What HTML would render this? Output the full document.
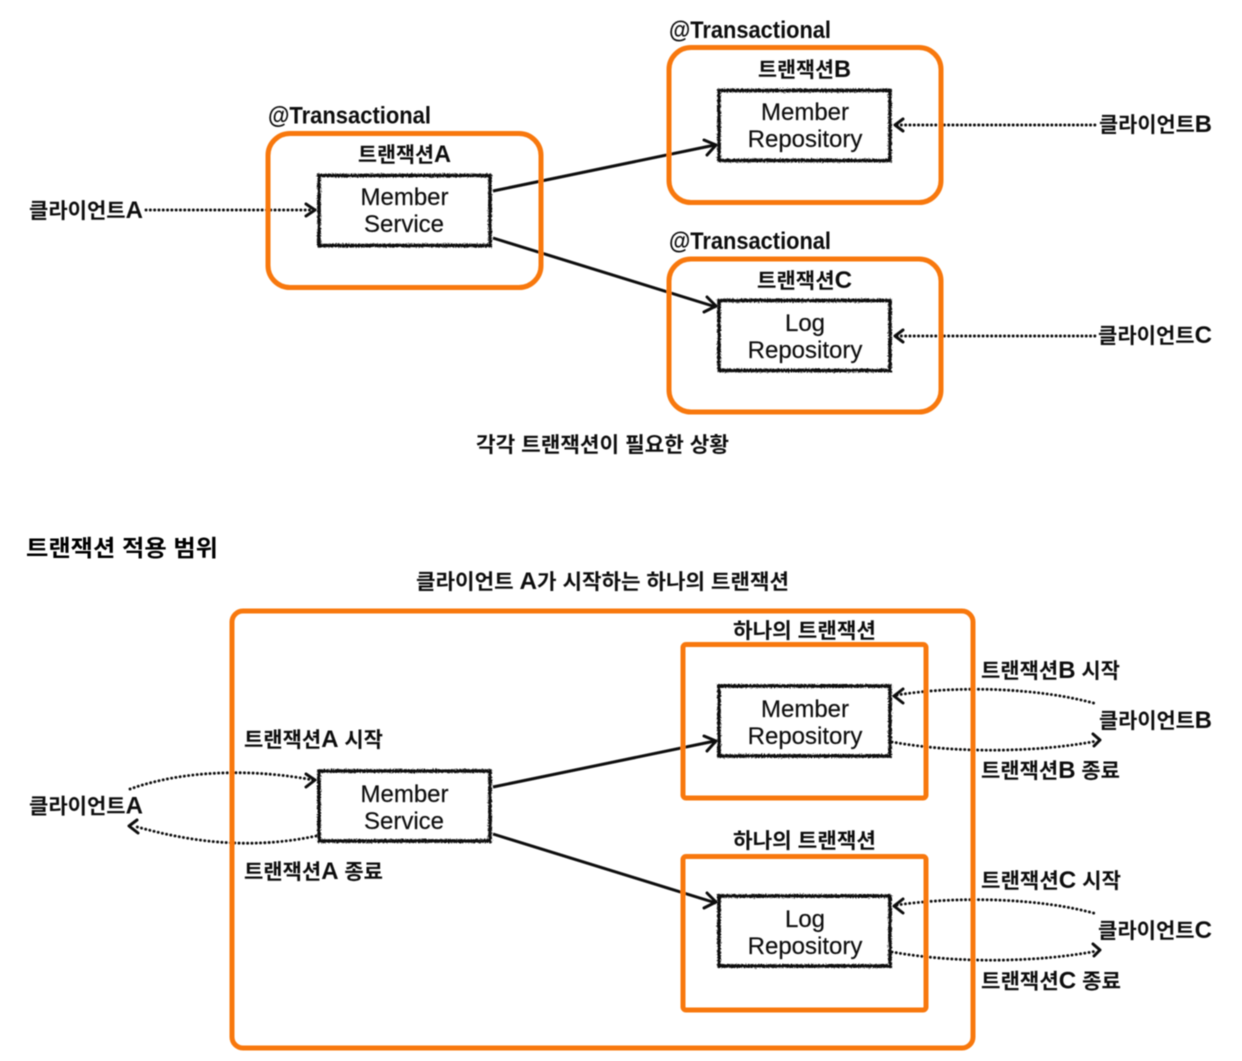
<!DOCTYPE html>
<html lang="ko"><head><meta charset="utf-8"><title>트랜잭션</title>
<style>
html,body{margin:0;padding:0;background:#fff;width:1242px;height:1061px;overflow:hidden}
svg{display:block}
text{font-family:"Liberation Sans","Noto Sans CJK KR",sans-serif;fill:#111}
.k{font-size:21px;font-weight:700}
.k tspan{font-size:24px}
.b{font-size:24px;font-weight:700}
.n{font-size:24px;text-anchor:middle;fill:#111;stroke:#111;stroke-width:.2}
.o{fill:none;stroke:#f8780b;stroke-width:5}
.s{fill:none;stroke:#111;stroke-width:3.6;filter:url(#rough)}
.l{fill:none;stroke:#111;stroke-width:3}
.d{fill:none;stroke:#111;stroke-width:2.9;stroke-dasharray:.1 4.2;stroke-linecap:round}
.a{fill:none;stroke:#111;stroke-width:3;stroke-linecap:round;stroke-linejoin:round}
</style></head><body>
<svg width="1242" height="1061" viewBox="0 0 1242 1061" xmlns="http://www.w3.org/2000/svg">
<defs><filter id="rough" x="-5%" y="-10%" width="110%" height="120%"><feTurbulence type="fractalNoise" baseFrequency="0.7" numOctaves="2" seed="4"/><feDisplacementMap in="SourceGraphic" scale="3.4"/></filter>
<filter id="soft"><feGaussianBlur stdDeviation="0.4"/></filter></defs>
<g filter="url(#soft)">
<!-- top connectors -->
<path class="l" d="M493 191L715 145M493 238L716 307"/>
<path class="a" d="M704 140L716 145L707 155M704 312L716 306L707 297"/>
<path class="d" d="M146 210H313M897 125H1097M897 336H1095"/>
<path class="a" d="M306 204L315 210L306 216M903 119L895 125L903 131M903 330L895 336L903 342"/>
<!-- top orange -->
<rect class="o" x="268" y="133.500" width="273" height="154" rx="22"/>
<rect class="o" x="669" y="47.500" width="272" height="155" rx="22"/>
<rect class="o" x="669" y="259" width="272" height="153" rx="22"/>
<!-- top boxes -->
<rect class="s" x="319" y="175.500" width="171" height="70"/>
<rect class="s" x="719" y="90.500" width="171" height="70"/>
<rect class="s" x="719" y="300.500" width="171" height="70"/>
<text class="b" x="268" y="123.500" textLength="163" lengthAdjust="spacingAndGlyphs">@Transactional</text>
<text class="b" x="669" y="38" textLength="162" lengthAdjust="spacingAndGlyphs">@Transactional</text>
<text class="b" x="669" y="249" textLength="162" lengthAdjust="spacingAndGlyphs">@Transactional</text>
<text class="k" x="358" y="162" textLength="93" lengthAdjust="spacingAndGlyphs">트랜잭션<tspan>A</tspan></text>
<text class="k" x="758" y="77" textLength="93" lengthAdjust="spacingAndGlyphs">트랜잭션<tspan>B</tspan></text>
<text class="k" x="757" y="288" textLength="95" lengthAdjust="spacingAndGlyphs">트랜잭션<tspan>C</tspan></text>
<text class="k" x="29" y="218" textLength="114" lengthAdjust="spacingAndGlyphs">클라이언트<tspan>A</tspan></text>
<text class="k" x="1099" y="132" textLength="113" lengthAdjust="spacingAndGlyphs">클라이언트<tspan>B</tspan></text>
<text class="k" x="1098" y="343" textLength="114" lengthAdjust="spacingAndGlyphs">클라이언트<tspan>C</tspan></text>
<text class="n" x="404.500" y="205">Member</text><text class="n" x="404" y="232">Service</text>
<text class="n" x="805" y="120">Member</text><text class="n" x="805" y="147">Repository</text>
<text class="n" x="805" y="331">Log</text><text class="n" x="805" y="358">Repository</text>
<text class="k" x="476" y="452" textLength="253" lengthAdjust="spacingAndGlyphs">각각 트랜잭션이 필요한 상황</text>
<text class="k" x="26" y="556" textLength="192" lengthAdjust="spacingAndGlyphs" style="font-size:23px;fill:#000">트랜잭션 적용 범위</text>
<text class="k" x="416" y="589" textLength="373" lengthAdjust="spacingAndGlyphs">클라이언트 <tspan>A</tspan>가 시작하는 하나의 트랜잭션</text>
<!-- bottom connectors -->
<path class="l" d="M493 787L715 741M493 834L716 903"/>
<path class="a" d="M704 736L716 741L707 751M704 908L716 902L707 893"/>
<path class="d" d="M130 789C190 768 260 770 313 780M316 836C250 850 190 842 134 826M897 695C960 685 1040 688 1097 704M892 742C960 754 1040 752 1097 741M897 905C960 896 1040 898 1097 914M892 952C960 964 1040 962 1097 951"/>
<path class="a" d="M306 774L315 780L306 787M137 820L129 826L138 833M903 689L894 696L903 703M1093 734L1100 740L1094 746M903 899L894 906L903 913M1093 944L1100 950L1094 956"/>
<!-- bottom orange -->
<rect class="o" x="232" y="611" width="741" height="437" rx="11"/>
<rect class="o" x="683" y="644.500" width="243" height="153.500" rx="3"/>
<rect class="o" x="683" y="856.500" width="243" height="153.500" rx="3"/>
<!-- bottom boxes -->
<rect class="s" x="319" y="771" width="171" height="70"/>
<rect class="s" x="719" y="686" width="171" height="70"/>
<rect class="s" x="719" y="896" width="171" height="70"/>
<text class="n" x="404.500" y="802">Member</text><text class="n" x="404" y="829">Service</text>
<text class="n" x="805" y="717">Member</text><text class="n" x="805" y="744">Repository</text>
<text class="n" x="805" y="927">Log</text><text class="n" x="805" y="954">Repository</text>
<text class="k" x="733" y="638" textLength="143" lengthAdjust="spacingAndGlyphs">하나의 트랜잭션</text>
<text class="k" x="733" y="848" textLength="143" lengthAdjust="spacingAndGlyphs">하나의 트랜잭션</text>
<text class="k" x="981" y="678" textLength="139" lengthAdjust="spacingAndGlyphs">트랜잭션<tspan>B</tspan> 시작</text>
<text class="k" x="981" y="778" textLength="139" lengthAdjust="spacingAndGlyphs">트랜잭션<tspan>B</tspan> 종료</text>
<text class="k" x="981" y="888" textLength="140" lengthAdjust="spacingAndGlyphs">트랜잭션<tspan>C</tspan> 시작</text>
<text class="k" x="981" y="988.500" textLength="140" lengthAdjust="spacingAndGlyphs">트랜잭션<tspan>C</tspan> 종료</text>
<text class="k" x="244" y="747" textLength="139" lengthAdjust="spacingAndGlyphs">트랜잭션<tspan>A</tspan> 시작</text>
<text class="k" x="244" y="879" textLength="139" lengthAdjust="spacingAndGlyphs">트랜잭션<tspan>A</tspan> 종료</text>
<text class="k" x="29" y="813.500" textLength="114" lengthAdjust="spacingAndGlyphs">클라이언트<tspan>A</tspan></text>
<text class="k" x="1099" y="728" textLength="113" lengthAdjust="spacingAndGlyphs">클라이언트<tspan>B</tspan></text>
<text class="k" x="1098" y="938" textLength="114" lengthAdjust="spacingAndGlyphs">클라이언트<tspan>C</tspan></text>
</g>
</svg>
</body></html>
